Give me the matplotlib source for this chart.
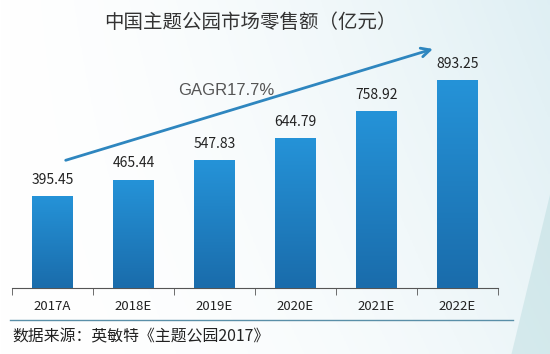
import numpy as np
import matplotlib
matplotlib.use("Agg")
import matplotlib.pyplot as plt
from matplotlib.colors import LinearSegmentedColormap

plt.rcParams['font.family'] = ['Noto Sans CJK SC', 'DejaVu Sans']

categories = ['2017A', '2018E', '2019E', '2020E', '2021E', '2022E']
values = [395.45, 465.44, 547.83, 644.79, 758.92, 893.25]
labels = ['395.45', '465.44', '547.83', '644.79', '758.92', '893.25']
title = '中国主题公园市场零售额（亿元）'
source = '数据来源：英敏特《主题公园2017》'
cagr_text = 'GAGR17.7%'

fig = plt.figure(figsize=(5.5, 3.54), dpi=100)

# background gradient
bg = fig.add_axes([0, 0, 1, 1], zorder=-10)
gx = np.linspace(0, 1, 200)
gy = np.linspace(0, 1, 130)
X, Y = np.meshgrid(gx, gy)
base = np.array([1.0, 1.0, 1.0])
tint = np.array([0.86, 0.93, 0.95])
w = np.clip(0.55 * X ** 2 + 0.35 * (1 - Y) * X, 0, 1)[..., None]
img = base * (1 - w) + tint * w
bg.imshow(img, extent=(0, 1, 0, 1), origin='upper', aspect='auto')
bg.fill([0.80, 1.0, 1.0, 0.93], [0.0, 0.0, 0.45, 0.0], color='#a9d3d6', alpha=0.35, lw=0)
bg.set_xlim(0, 1)
bg.set_ylim(0, 1)
bg.axis('off')

ax = fig.add_axes([12 / 550, 66 / 354, 486 / 550, 248 / 354])
ax.patch.set_alpha(0)
x = np.arange(len(categories))
bars = ax.bar(x, values, width=0.5, color='#1f80c4', zorder=2)
cmap = LinearSegmentedColormap.from_list('bar', ['#1a6cab', '#2593d8'])
grad = np.linspace(0, 1, 100).reshape(-1, 1)
for b in bars:
    x0, y0 = b.get_x(), b.get_y()
    im = ax.imshow(grad, extent=(x0, x0 + b.get_width(), y0, y0 + b.get_height()),
                   origin='lower', cmap=cmap, aspect='auto', zorder=3)
    im.set_clip_path(b)

for xi, v, lab in zip(x, values, labels):
    ax.text(xi, v + 40, lab, ha='center', va='bottom', fontsize=10, color='#222222')

ax.set_xlim(-0.5, len(categories) - 0.5)
ax.set_ylim(0, 1065)
for s in ['top', 'right', 'left']:
    ax.spines[s].set_visible(False)
ax.spines['bottom'].set_color('#555555')
ax.set_yticks([])
ax.set_xticks(x)
ax.set_xticklabels(categories, fontsize=9.5, color='#222222')
ax.tick_params(axis='x', which='major', length=0, pad=9)
ax.set_xticks(np.arange(-0.5, len(categories), 1), minor=True)
ax.tick_params(axis='x', which='minor', length=5, color='#555555', direction='out')

ax.annotate('', xy=(4.73, 1030), xytext=(0.13, 545),
            arrowprops=dict(arrowstyle='->', color='#2e86bf', lw=2.0, mutation_scale=16),
            zorder=4)
ax.text(2.15, 846, cagr_text, ha='center', va='center', fontsize=12,
        color='#555555', family=['Liberation Sans', 'DejaVu Sans'])

fig.text(250 / 550, 1 - 22 / 354, title, ha='center', va='center', fontsize=14, color='#333333')
fig.add_artist(plt.Line2D([10 / 550, 513 / 550], [1 - 320 / 354, 1 - 320 / 354],
                          color='#5a8fa8', lw=1))
fig.text(12 / 550, 1 - 337 / 354, source, ha='left', va='center', fontsize=11.4, color='#222222')

fig.savefig('out.png', dpi=100)
